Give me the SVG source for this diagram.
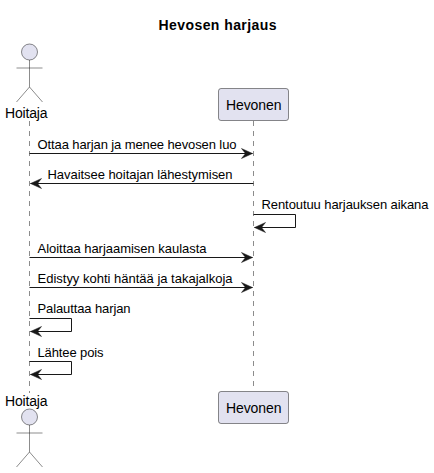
<svg xmlns="http://www.w3.org/2000/svg" width="434" height="473" viewBox="0 0 434 473">
<defs>
<marker id="arrow" markerUnits="userSpaceOnUse" markerWidth="14" markerHeight="12" refX="11" refY="5" orient="auto" overflow="visible"><polygon points="0,0 11,5 0,10 4,5" fill="#181818" stroke="#181818" stroke-width=".5"/></marker>
</defs>
<style>
text{font-family:"Liberation Sans",Arial,sans-serif;fill:#000}
.m{font-size:13px}
.p{font-size:14px}
.t{font-size:14px;font-weight:bold}
.life{stroke:#181818;stroke-width:.5;stroke-dasharray:5 5;fill:none}
.msg{stroke:#181818;stroke-width:1;fill:none;marker-end:url(#arrow)}
.box{fill:#E2E2F0;stroke:#181818;stroke-width:.5}
.act{fill:none;stroke:#181818;stroke-width:.5}
.head{fill:#E2E2F0;stroke:#181818;stroke-width:.5}
</style>
<rect width="434" height="473" fill="#fff"/>
<text class="t" x="158.5" y="30" textLength="118" lengthAdjust="spacing">Hevosen harjaus</text>
<g id="lifelines">
<line class="life" x1="29.5" y1="121" x2="29.5" y2="393"/>
<line class="life" x1="253.5" y1="121" x2="253.5" y2="391"/>
</g>
<g id="connectors">
<line class="msg" x1="29.5" y1="153.5" x2="252.5" y2="153.5"/>
<line class="msg" x1="253.5" y1="183.5" x2="30.5" y2="183.5"/>
<polyline class="msg" points="253.5,214.5 295.5,214.5 295.5,227.5 254.5,227.5"/>
<line class="msg" x1="29.5" y1="257.5" x2="252.5" y2="257.5"/>
<line class="msg" x1="29.5" y1="287.5" x2="252.5" y2="287.5"/>
<polyline class="msg" points="29.5,318.5 71.5,318.5 71.5,331.5 30.5,331.5"/>
<polyline class="msg" points="29.5,361.5 71.5,361.5 71.5,374.5 30.5,374.5"/>
</g>
<g id="labels">
<text class="m" x="37.5" y="149" textLength="199" lengthAdjust="spacing">Ottaa harjan ja menee hevosen luo</text>
<text class="m" x="47.5" y="179" textLength="185" lengthAdjust="spacing">Havaitsee hoitajan lähestymisen</text>
<text class="m" x="261.5" y="209" textLength="167" lengthAdjust="spacing">Rentoutuu harjauksen aikana</text>
<text class="m" x="37.5" y="253" textLength="169" lengthAdjust="spacing">Aloittaa harjaamisen kaulasta</text>
<text class="m" x="37.5" y="283" textLength="195" lengthAdjust="spacing">Edistyy kohti häntää ja takajalkoja</text>
<text class="m" x="37.5" y="313" textLength="93" lengthAdjust="spacing">Palauttaa harjan</text>
<text class="m" x="37.5" y="357" textLength="66" lengthAdjust="spacing">Lähtee pois</text>
</g>
<g id="hoitaja-top">
<circle class="head" cx="29.5" cy="52" r="8"/>
<path class="act" d="M29.5 60V87M16.5 68H42.5M29.5 87L16.5 102M29.5 87L42.5 102"/>
<text class="p" x="5" y="118" textLength="42.5" lengthAdjust="spacing">Hoitaja</text>
</g>
<g id="hevonen-top">
<rect class="box" x="218.5" y="88.5" width="70" height="32" rx="2.5"/>
<text class="p" x="226" y="110" textLength="55.5" lengthAdjust="spacing">Hevonen</text>
</g>
<g id="hoitaja-bottom">
<text class="p" x="5" y="406" textLength="42.5" lengthAdjust="spacing">Hoitaja</text>
<circle class="head" cx="29.5" cy="417" r="8"/>
<path class="act" d="M29.5 425V452M16.5 433H42.5M29.5 452L16.5 467M29.5 452L42.5 467"/>
</g>
<g id="hevonen-bottom">
<rect class="box" x="218.5" y="391.5" width="70" height="32" rx="2.5"/>
<text class="p" x="226" y="413" textLength="55.5" lengthAdjust="spacing">Hevonen</text>
</g>
</svg>
